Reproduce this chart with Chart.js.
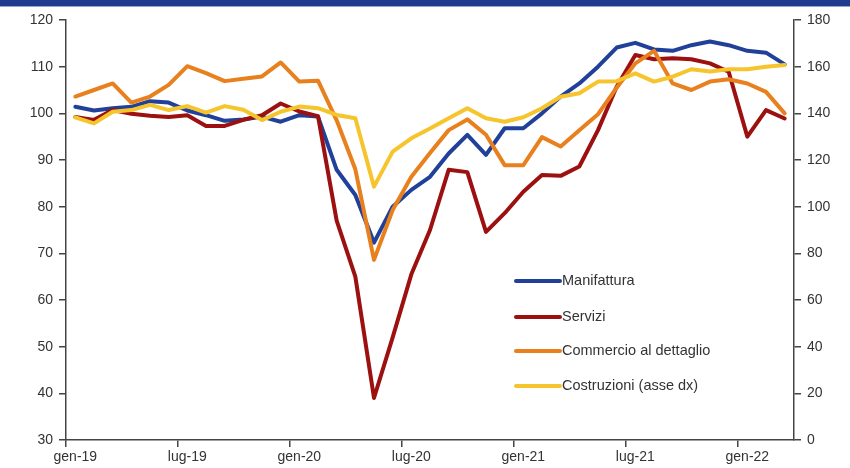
<!DOCTYPE html>
<html>
<head>
<meta charset="utf-8">
<script src="https://cdn.jsdelivr.net/npm/chart.js@4"></script>
<style>
  html, body { margin: 0; padding: 0; background: #fff; }
  #wrap { position: relative; width: 850px; height: 468px; }
  #bar { position: absolute; left: 0; top: 0; width: 850px; height: 6px; background: #1f3b90; border-bottom: 1px solid #9aa6cc; }
  canvas { position: absolute; left: 0; top: 0; }
</style>
</head>
<body>
<div id="wrap">
  <canvas id="chart" width="850" height="468"></canvas>
  <div id="bar"></div>
</div>
<script>
// months, gen-19 .. mar-22
const months = [
  'gen-19','feb-19','mar-19','apr-19','mag-19','giu-19','lug-19','ago-19','set-19','ott-19','nov-19','dic-19',
  'gen-20','feb-20','mar-20','apr-20','mag-20','giu-20','lug-20','ago-20','set-20','ott-20','nov-20','dic-20',
  'gen-21','feb-21','mar-21','apr-21','mag-21','giu-21','lug-21','ago-21','set-21','ott-21','nov-21','dic-21',
  'gen-22','feb-22','mar-22'
];

// left axis
const manifattura = [
  101.4, 100.6, 101.1, 101.4, 102.6, 102.3, 100.6, 99.6, 98.4, 98.7, 99.3, 98.2,
  99.6, 99.3, 87.9, 82.5, 72.3, 80.0, 83.6, 86.4, 91.4, 95.4, 91.1, 96.8,
  96.8, 100.0, 103.6, 106.4, 110.0, 114.1, 115.1, 113.7, 113.4, 114.6, 115.4, 114.6,
  113.4, 113.0, 110.5
];
const servizi = [
  99.2, 98.6, 100.7, 99.9, 99.5, 99.2, 99.6, 97.3, 97.3, 98.6, 99.6, 102.1,
  100.4, 99.4, 77.0, 65.0, 39.0, 52.0, 65.5, 75.0, 87.9, 87.4, 74.6, 78.6,
  83.2, 86.8, 86.6, 88.6, 96.4, 105.7, 112.5, 111.6, 111.8, 111.6, 110.7, 108.9,
  95.0, 100.7, 98.9
];
const commercio = [
  103.6, 105.0, 106.4, 102.3, 103.6, 106.1, 110.1, 108.6, 106.9, 107.4, 107.9, 110.9,
  106.8, 107.0, 98.5, 88.0, 68.6, 79.3, 86.4, 91.5, 96.4, 98.7, 95.4, 88.9,
  88.9, 94.9, 92.9, 96.4, 99.8, 105.5, 110.7, 113.4, 106.4, 105.0, 106.8, 107.3,
  106.4, 104.6, 100.0
];
// right axis
const costruzioni = [
  138.3, 135.7, 140.7, 141.4, 143.6, 141.4, 143.1, 140.3, 143.1, 141.5, 137.1, 140.7,
  142.9, 142.2, 139.3, 137.9, 108.6, 123.6, 129.3, 133.5, 137.9, 142.2, 137.9, 136.4,
  138.3, 142.2, 147.1, 148.6, 153.6, 153.8, 157.1, 153.6, 155.7, 158.9, 157.9, 158.9,
  158.9, 160.0, 160.7
];

const BLUE = '#21409a', RED = '#9c1010', ORANGE = '#e8801e', YELLOW = '#f6c42c';
const AXIS = '#444';
const FONT = "'Liberation Sans', Arial, sans-serif";

// legend drawn inside the plot area
const insideLegend = {
  id: 'insideLegend',
  afterDraw(chart) {
    const ctx = chart.ctx;
    const rows = [
      { ds: chart.data.datasets[0], y: 281 },
      { ds: chart.data.datasets[1], y: 317 },
      { ds: chart.data.datasets[2], y: 351 },
      { ds: chart.data.datasets[3], y: 386 }
    ];
    ctx.save();
    ctx.font = '14.5px ' + FONT;
    ctx.textBaseline = 'middle';
    rows.forEach(r => {
      ctx.strokeStyle = r.ds.borderColor;
      ctx.lineWidth = 4;
      ctx.lineCap = 'round';
      ctx.beginPath();
      ctx.moveTo(516, r.y);
      ctx.lineTo(560, r.y);
      ctx.stroke();
      ctx.fillStyle = '#333';
      ctx.fillText(r.ds.label, 562, r.y);
    });
    ctx.restore();
  }
};

function line(label, data, color, axis, order) {
  return {
    label: label,
    data: data,
    borderColor: color,
    backgroundColor: color,
    borderWidth: 4,
    pointRadius: 0,
    tension: 0,
    borderJoinStyle: 'round',
    borderCapStyle: 'round',
    yAxisID: axis,
    order: order
  };
}

new Chart(document.getElementById('chart'), {
  type: 'line',
  data: {
    labels: months,
    datasets: [
      line('Manifattura', manifattura, BLUE, 'y', 3),
      line('Servizi', servizi, RED, 'y', 2),
      line('Commercio al dettaglio', commercio, ORANGE, 'y', 1),
      line('Costruzioni (asse dx)', costruzioni, YELLOW, 'y1', 0)
    ]
  },
  options: {
    responsive: false,
    animation: false,
    layout: { padding: { top: 20, left: 0, right: 0, bottom: 0 } },
    plugins: { legend: { display: false }, tooltip: { enabled: false } },
    scales: {
      x: {
        type: 'category',
        offset: true,
        border: { display: true, color: AXIS, width: 1.5 },
        grid: {
          offset: true,
          drawOnChartArea: false,
          drawTicks: true,
          tickLength: 7,
          lineWidth: 1.5,
          color: c => (c.index % 6 === 0 ? AXIS : 'rgba(0,0,0,0)')
        },
        ticks: {
          autoSkip: false,
          maxRotation: 0,
          padding: 2,
          color: '#333',
          font: { family: FONT, size: 14 },
          callback: function (v, i) { return i % 6 === 0 ? this.getLabelForValue(v) : ''; }
        },
        afterFit: s => { s.height = 28; }
      },
      y: {
        position: 'left',
        min: 30, max: 120,
        border: { display: true, color: AXIS, width: 1.5 },
        grid: { drawOnChartArea: false, tickLength: 7, lineWidth: 1.5, color: AXIS },
        ticks: { stepSize: 10, padding: 6, color: '#333', font: { family: FONT, size: 14 } },
        afterFit: s => { s.width = 66; }
      },
      y1: {
        position: 'right',
        min: 0, max: 180,
        border: { display: true, color: AXIS, width: 1.5 },
        grid: { drawOnChartArea: false, tickLength: 7, lineWidth: 1.5, color: AXIS },
        ticks: { stepSize: 20, padding: 6, color: '#333', font: { family: FONT, size: 14 } },
        afterFit: s => { s.width = 56; }
      }
    }
  },
  plugins: [insideLegend]
});
</script>
</body>
</html>
